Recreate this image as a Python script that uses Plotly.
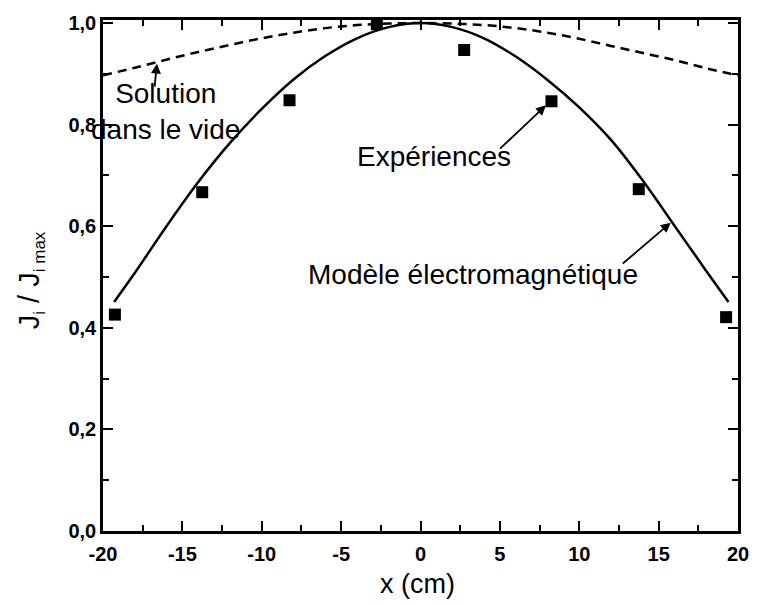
import plotly.graph_objects as go

# Measured current profile (squares)
exp_x = [-19.25, -13.75, -8.25, -2.75, 2.75, 8.25, 13.75, 19.25]
exp_y = [0.426, 0.667, 0.848, 0.998, 0.947, 0.846, 0.673, 0.421]

# Electromagnetic model (solid curve)
model_x = [-19.3, -18, -16, -14, -12, -10, -8, -6, -4, -2, 0,
           2, 4, 6, 8, 10, 12, 14, 16, 18, 19.4]
model_y = [0.451, 0.508, 0.600, 0.687, 0.764, 0.831, 0.889, 0.935, 0.970, 0.992, 1.000,
           0.992, 0.970, 0.934, 0.888, 0.834, 0.770, 0.690, 0.601, 0.512, 0.451]

# Vacuum solution (dashed curve)
vac_x = [-20, -18, -16, -14, -12, -10, -8, -6, -4, -2, 0,
         2, 4, 6, 8, 10, 12, 14, 16, 18, 20]
vac_y = [0.897, 0.912, 0.928, 0.943, 0.957, 0.970, 0.981, 0.990, 0.996, 0.999, 1.000,
         0.999, 0.996, 0.990, 0.981, 0.969, 0.955, 0.941, 0.927, 0.911, 0.897]

x_ticks = [-20, -15, -10, -5, 0, 5, 10, 15, 20]
x_tick_text = ["-20", "-15", "-10", "-5", "0", "5", "10", "15", "20"]
y_ticks = [0.0, 0.2, 0.4, 0.6, 0.8, 1.0]
y_tick_text = ["0,0", "0,2", "0,4", "0,6", "0,8", "1,0"]

FONT = "Liberation Sans, Arial, Helvetica, sans-serif"

fig = go.Figure()
fig.add_trace(go.Scatter(x=vac_x, y=vac_y, mode="lines", line_shape="spline",
                         line=dict(color="black", width=2.5, dash="9px,6px"),
                         showlegend=False, hoverinfo="skip"))
fig.add_trace(go.Scatter(x=model_x, y=model_y, mode="lines", line_shape="spline",
                         line=dict(color="black", width=2.5),
                         showlegend=False, hoverinfo="skip"))
fig.add_trace(go.Scatter(x=exp_x, y=exp_y, mode="markers",
                         marker=dict(symbol="square", size=12, color="black"),
                         showlegend=False))

axis_common = dict(
    showgrid=False, zeroline=False, showline=True, linecolor="black", linewidth=2.5,
    mirror="ticks", ticks="inside", ticklen=10, tickwidth=2, tickcolor="black",
    tickfont=dict(family=FONT, size=20, color="black", weight="bold"),
)

fig.update_xaxes(range=[-20, 20], tickmode="array", tickvals=x_ticks, ticktext=x_tick_text,
                 ticklabelstandoff=3,
                 minor=dict(tickmode="linear", tick0=-20, dtick=2.5, ticks="inside",
                            ticklen=6, tickwidth=2, tickcolor="black"),
                 **axis_common)
fig.update_yaxes(range=[0, 1.006], tickmode="array", tickvals=y_ticks, ticktext=y_tick_text,
                 minor=dict(tickmode="linear", tick0=0, dtick=0.1, ticks="inside",
                            ticklen=6, tickwidth=2, tickcolor="black"),
                 **axis_common)

text_font = dict(family=FONT, size=28, color="black")
arrow_style = dict(text="", showarrow=True, arrowhead=2, arrowsize=1.1, arrowwidth=1.8,
                   arrowcolor="black", xref="x", yref="y", axref="x", ayref="y")

annotations = [
    # labels inside the plot
    dict(x=-16.05, y=0.826, xref="x", yref="y", text="Solution<br>dans le vide",
         showarrow=False, font=text_font, align="center",
         xanchor="center", yanchor="middle"),
    dict(x=0.84, y=0.737, xref="x", yref="y", text="Expériences",
         showarrow=False, font=text_font, xanchor="center", yanchor="middle"),
    dict(x=3.33, y=0.505, xref="x", yref="y", text="Modèle électromagnétique",
         showarrow=False, font=text_font, xanchor="center", yanchor="middle"),
    # pointer arrows
    dict(x=-16.6, y=0.920, ax=-16.76, ay=0.872, **arrow_style),
    dict(x=7.9, y=0.838, ax=4.92, ay=0.750, **arrow_style),
    dict(x=15.76, y=0.607, ax=12.65, ay=0.524, **arrow_style),
    # axis titles
    dict(x=0.496, y=-0.104, xref="paper", yref="paper", text="x (cm)",
         xanchor="center", yanchor="middle",
         showarrow=False, font=dict(family=FONT, size=27, color="black")),
    dict(x=-0.114, y=0.49, xref="paper", yref="paper",
         text=("J<sub><span style='font-size:17px'>i</span></sub> / "
               "J<sub><span style='font-size:17px'>i max</span></sub>"),
         textangle=-90, xanchor="center", yanchor="middle",
         showarrow=False, font=dict(family=FONT, size=29, color="black")),
]

fig.update_layout(
    width=761, height=606,
    margin=dict(l=103, r=16, t=14, b=75),
    plot_bgcolor="white", paper_bgcolor="white",
    annotations=annotations,
    font=dict(family=FONT, color="black"),
)

fig.write_html("out.html")
